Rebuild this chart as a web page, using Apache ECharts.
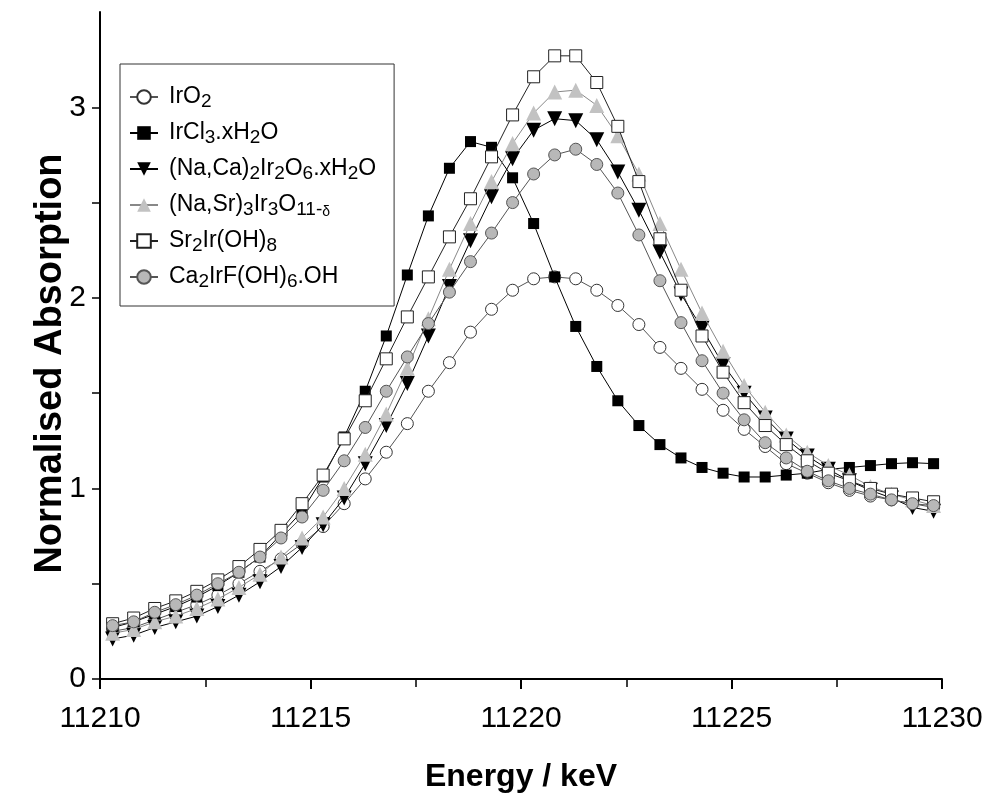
<!DOCTYPE html>
<html><head><meta charset="utf-8">
<script src="https://cdn.jsdelivr.net/npm/echarts@6/dist/echarts.min.js"></script>
<style>html,body{margin:0;padding:0;background:#fff}#c{width:987px;height:798px}</style>
</head><body><div id="c"></div>
<script>
const energy = [11210.3, 11210.8, 11211.3, 11211.8, 11212.3, 11212.8, 11213.3, 11213.8, 11214.3, 11214.8,
  11215.3, 11215.8, 11216.3, 11216.8, 11217.3, 11217.8, 11218.3, 11218.8, 11219.3, 11219.8,
  11220.3, 11220.8, 11221.3, 11221.8, 11222.3, 11222.8, 11223.3, 11223.8, 11224.3, 11224.8,
  11225.3, 11225.8, 11226.3, 11226.8, 11227.3, 11227.8, 11228.3, 11228.8, 11229.3, 11229.8];

const irO2 = [0.25, 0.27, 0.31, 0.35, 0.39, 0.44, 0.50, 0.565, 0.63, 0.71,
  0.80, 0.92, 1.05, 1.19, 1.34, 1.51, 1.66, 1.82, 1.94, 2.04,
  2.10, 2.11, 2.10, 2.04, 1.96, 1.86, 1.74, 1.63, 1.52, 1.41,
  1.31, 1.22, 1.13, 1.08, 1.03, 0.99, 0.96, 0.94, 0.92, 0.90];

const irCl3 = [0.27, 0.30, 0.34, 0.38, 0.43, 0.49, 0.56, 0.64, 0.76, 0.88,
  1.06, 1.27, 1.51, 1.80, 2.12, 2.43, 2.68, 2.82, 2.79, 2.63,
  2.39, 2.11, 1.85, 1.64, 1.46, 1.33, 1.23, 1.16, 1.11, 1.08,
  1.06, 1.06, 1.07, 1.08, 1.10, 1.11, 1.12, 1.13, 1.135, 1.13];

const naCa = [0.21, 0.23, 0.27, 0.30, 0.33, 0.38, 0.44, 0.51, 0.59, 0.69,
  0.81, 0.95, 1.13, 1.33, 1.55, 1.80, 2.06, 2.30, 2.53, 2.73,
  2.88, 2.94, 2.93, 2.83, 2.66, 2.46, 2.24, 2.02, 1.84, 1.65,
  1.50, 1.37, 1.26, 1.17, 1.10, 1.04, 0.99, 0.95, 0.90, 0.88];

const naSr = [0.24, 0.26, 0.30, 0.33, 0.37, 0.42, 0.48, 0.55, 0.64, 0.74,
  0.85, 1.00, 1.18, 1.39, 1.63, 1.89, 2.15, 2.39, 2.61, 2.81,
  2.97, 3.08, 3.09, 3.01, 2.85, 2.65, 2.39, 2.15, 1.92, 1.72,
  1.54, 1.40, 1.28, 1.19, 1.12, 1.07, 1.01, 0.97, 0.94, 0.91];

const sr2 = [0.29, 0.32, 0.37, 0.41, 0.46, 0.52, 0.59, 0.68, 0.78, 0.92,
  1.07, 1.26, 1.46, 1.68, 1.90, 2.11, 2.32, 2.52, 2.74, 2.96,
  3.16, 3.27, 3.27, 3.13, 2.90, 2.61, 2.31, 2.04, 1.80, 1.61,
  1.45, 1.33, 1.23, 1.145, 1.08, 1.04, 1.00, 0.97, 0.95, 0.93];

const ca2 = [0.28, 0.30, 0.35, 0.39, 0.44, 0.50, 0.56, 0.64, 0.74, 0.85,
  0.99, 1.145, 1.32, 1.51, 1.69, 1.865, 2.03, 2.19, 2.34, 2.50,
  2.65, 2.75, 2.78, 2.70, 2.55, 2.33, 2.09, 1.87, 1.67, 1.50,
  1.36, 1.24, 1.16, 1.09, 1.04, 1.00, 0.97, 0.94, 0.92, 0.91];

const seriesNames = ['IrO2', 'IrCl3.xH2O', '(Na,Ca)2Ir2O6.xH2O', '(Na,Sr)3Ir3O11-δ', 'Sr2Ir(OH)8', 'Ca2IrF(OH)6.OH'];
const legendLabels = ['IrO{s|2}', 'IrCl{s|3}.xH{s|2}O', '(Na,Ca){s|2}Ir{s|2}O{s|6}.xH{s|2}O',
  '(Na,Sr){s|3}Ir{s|3}O{s|11-}{d|δ}', 'Sr{s|2}Ir(OH){s|8}', 'Ca{s|2}IrF(OH){s|6}.OH'];
const xTickLabels = ['11210', '11215', '11220', '11225', '11230'];
const yTickLabels = ['0', '1', '2', '3'];

const seriesData = [irO2, irCl3, naCa, naSr, sr2, ca2];
const styles = [
  {symbol: 'circle', size: 12, rot: 0, fill: '#ffffff', border: '#333', bw: 1, line: '#555'},
  {symbol: 'rect', size: 11, rot: 0, fill: '#000000', border: '#000', bw: 0, line: '#000'},
  {symbol: 'triangle', size: 15, rot: 180, fill: '#000000', border: '#000', bw: 0, line: '#000'},
  {symbol: 'triangle', size: 15, rot: 0, fill: '#c2c2c2', border: '#c2c2c2', bw: 0, line: '#888'},
  {symbol: 'rect', size: 12, rot: 0, fill: '#ffffff', border: '#222', bw: 1, line: '#222'},
  {symbol: 'circle', size: 12, rot: 0, fill: '#b8b8b8', border: '#555', bw: 1, line: '#555'}
];

const font = "'Liberation Sans', Arial, sans-serif";

const series = seriesNames.map((name, k) => ({
  name: name,
  type: 'line',
  data: energy.map((e, i) => [e, seriesData[k][i]]),
  symbol: styles[k].symbol,
  symbolSize: styles[k].size,
  symbolRotate: styles[k].rot,
  showAllSymbol: true,
  z: 2 + k,
  lineStyle: {color: styles[k].line, width: 1},
  itemStyle: {color: styles[k].fill, borderColor: styles[k].border, borderWidth: styles[k].bw},
  emphasis: {disabled: true},
  animation: false
}));

const chart = echarts.init(document.getElementById('c'), null, {renderer: 'canvas'});
chart.setOption({
  backgroundColor: '#ffffff',
  animation: false,
  grid: {left: 100, right: 45, top: 12, bottom: 107, containLabel: false},
  legend: {
    orient: 'vertical',
    left: 120,
    top: 64,
    padding: [19, 18, 15, 9],
    itemGap: 8,
    itemWidth: 28,
    itemHeight: 17,
    borderColor: '#333',
    borderWidth: 1,
    backgroundColor: '#ffffff',
    data: seriesNames,
    formatter: function (n) { return legendLabels[seriesNames.indexOf(n)]; },
    textStyle: {
      fontFamily: font, fontSize: 23, color: '#000', lineHeight: 28, padding: [0, 0, 0, 6],
      rich: {
        s: {fontFamily: font, fontSize: 19, color: '#000', lineHeight: 14, verticalAlign: 'bottom'},
        d: {fontFamily: font, fontSize: 14, color: '#000', lineHeight: 12, verticalAlign: 'bottom'}
      }
    }
  },
  xAxis: {
    type: 'value',
    min: 11210, max: 11230, interval: 5,
    name: 'Energy / keV',
    nameLocation: 'middle',
    nameGap: 82,
    nameMoveOverlap: false,
    nameTextStyle: {fontFamily: font, fontSize: 32, fontWeight: 'bold', color: '#000'},
    axisLine: {show: true, onZero: false, lineStyle: {color: '#000', width: 2}},
    axisTick: {show: true, inside: false, length: 10, lineStyle: {color: '#000', width: 2}},
    minorTick: {show: true, splitNumber: 2, length: 8, lineStyle: {color: '#000', width: 1.5}},
    splitLine: {show: false},
    axisLabel: {fontFamily: font, fontSize: 30, color: '#000', margin: 25,
      formatter: function (v) { const s = String(Math.round(v)); return xTickLabels.indexOf(s) >= 0 ? s : ''; }}
  },
  yAxis: {
    type: 'value',
    min: 0, max: 3.5, interval: 0.5,
    name: 'Normalised Absorption',
    nameLocation: 'middle',
    nameGap: 30,
    nameRotate: 90,
    nameMoveOverlap: false,
    nameTextStyle: {fontFamily: font, fontSize: 38, fontWeight: 'bold', color: '#000', padding: [0, 36, 0, 0]},
    axisLine: {show: true, onZero: false, lineStyle: {color: '#000', width: 2}},
    axisTick: {show: true, inside: false, length: 8, lineStyle: {color: '#000', width: 1.5}},
    splitLine: {show: false},
    axisLabel: {fontFamily: font, fontSize: 30, color: '#000', margin: 14, showMaxLabel: false,
      formatter: function (v) { const s = String(v); return yTickLabels.indexOf(s) >= 0 ? s : ''; }}
  },
  series: series
});
</script>
</body></html>
